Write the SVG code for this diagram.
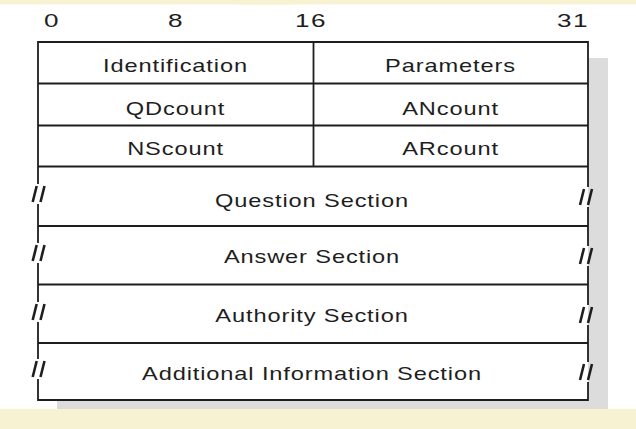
<svg xmlns="http://www.w3.org/2000/svg" xmlns:xlink="http://www.w3.org/1999/xlink" width="636" height="429" viewBox="0 0 636 429">
<style>
.t{font-family:"Liberation Sans",Arial,Helvetica,sans-serif;font-size:17.5px;fill:#1e1e1e;text-anchor:middle;letter-spacing:0.65px}
.d{font-size:18px;letter-spacing:1px}
.ln{stroke:#1e1e1e;stroke-width:1.8;fill:none}
.bk{stroke:#1e1e1e;stroke-width:2.6;fill:none}
</style>
<defs>
<radialGradient id="blob" cx="0.5" cy="0" r="0.5">
<stop offset="0" stop-color="#ecd39a"/>
<stop offset="1" stop-color="#f7f2d2"/>
</radialGradient>
<g id="brkL"><line class="bk" x1="-1.3" y1="-8" x2="-5.3" y2="8"/><line class="bk" x1="6.5" y1="-8" x2="2.5" y2="8"/></g>
<g id="brkR"><line class="bk" x1="-4" y1="-8" x2="-8" y2="8"/><line class="bk" x1="4" y1="-8" x2="0" y2="8"/></g>
</defs>
<rect width="636" height="429" fill="#ffffff"/>
<rect x="0" y="0" width="636" height="4.5" fill="#f7f2d2"/>
<ellipse cx="265" cy="0" rx="70" ry="4.5" fill="url(#blob)"/>
<rect x="0" y="409" width="636" height="20" fill="#f7f2d2"/>
<rect x="57" y="58" width="551" height="351" fill="#dcdcdc"/>
<rect x="38" y="42" width="550" height="358" fill="#ffffff"/>

<g id="bit-scale">
<text class="t d" transform="translate(52,27) scale(1.45,1)">0</text>
<text class="t d" transform="translate(176,27) scale(1.45,1)">8</text>
<text class="t d" transform="translate(311,27) scale(1.45,1)">16</text>
<text class="t d" transform="translate(573,27) scale(1.45,1)">31</text>
</g>

<g id="connectors">
<path class="ln" d="M38 42H588M38 83.5H588M38 125.5H588M38 166.5H588M38 226H588M38 284.5H588M38 343H588M38 400H588M313.5 42V166.5"/>
<path class="ln" d="M38 41.1V184M38 204V243M38 263V302M38 322V359M38 379V400.9"/>
<path class="ln" d="M588 41.1V187M588 207V246M588 266V305M588 325V362M588 382V400.9"/>
<use xlink:href="#brkL" x="38" y="194"/>
<use xlink:href="#brkL" x="38" y="253"/>
<use xlink:href="#brkL" x="38" y="312"/>
<use xlink:href="#brkL" x="38" y="369"/>
<use xlink:href="#brkR" x="588" y="197"/>
<use xlink:href="#brkR" x="588" y="256"/>
<use xlink:href="#brkR" x="588" y="315"/>
<use xlink:href="#brkR" x="588" y="372"/>
</g>

<g id="identification"><text class="t" transform="translate(175.5,72) scale(1.35,1)">Identification</text></g>
<g id="parameters"><text class="t" transform="translate(450.5,72) scale(1.35,1)">Parameters</text></g>
<g id="qdcount"><text class="t" transform="translate(175.5,115) scale(1.35,1)">QDcount</text></g>
<g id="ancount"><text class="t" transform="translate(450.5,115) scale(1.35,1)">ANcount</text></g>
<g id="nscount"><text class="t" transform="translate(175.5,155) scale(1.35,1)">NScount</text></g>
<g id="arcount"><text class="t" transform="translate(450.5,155) scale(1.35,1)">ARcount</text></g>
<g id="question"><text class="t" transform="translate(312,206.5) scale(1.35,1)">Question Section</text></g>
<g id="answer"><text class="t" transform="translate(312,263) scale(1.35,1)">Answer Section</text></g>
<g id="authority"><text class="t" transform="translate(312,321.5) scale(1.35,1)">Authority Section</text></g>
<g id="additional"><text class="t" transform="translate(312,380) scale(1.35,1)">Additional Information Section</text></g>
</svg>
